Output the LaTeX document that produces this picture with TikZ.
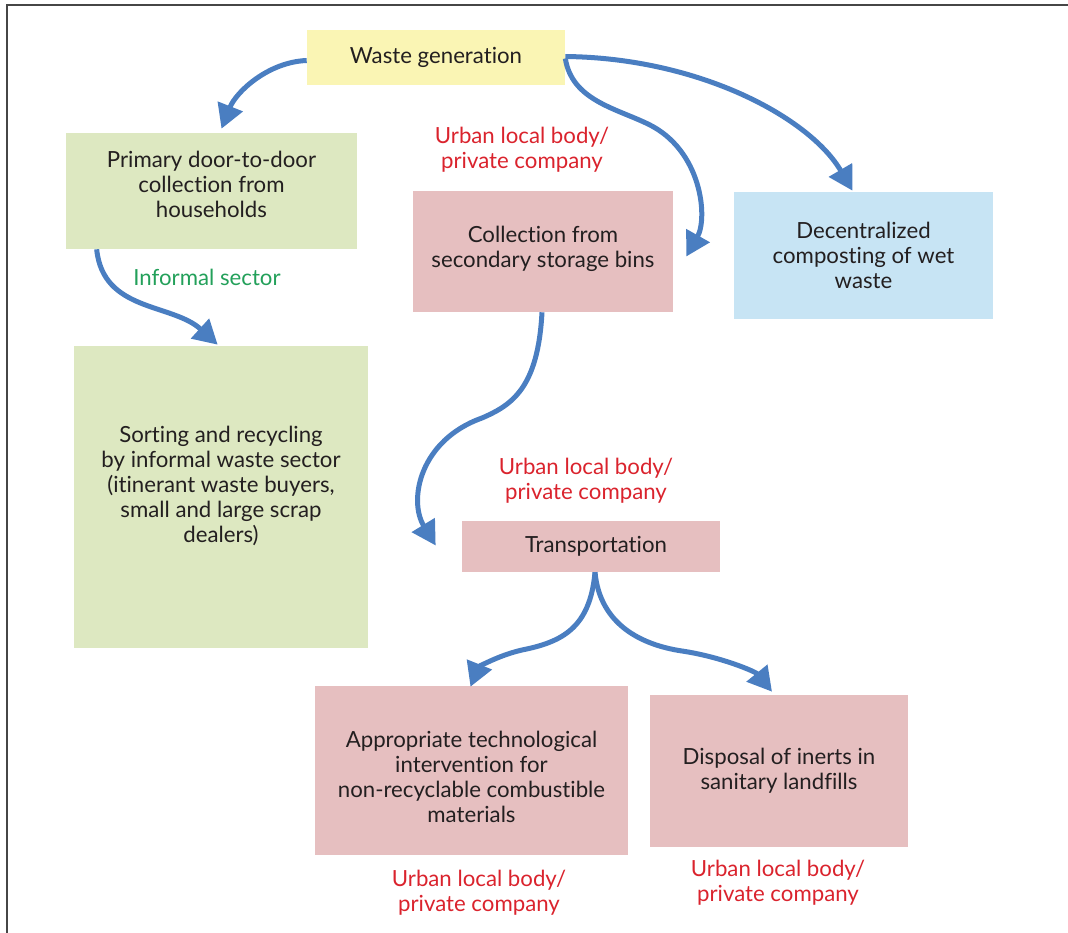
\documentclass[tikz,border=0pt]{standalone}
\usepackage{fontspec}
\setmainfont{Lato}[Ligatures=NoCommon]
\usetikzlibrary{arrows.meta,calc}

\definecolor{genyellow}{RGB}{250,245,180}
\definecolor{infgreen}{RGB}{221,232,193}
\definecolor{ulbpink}{RGB}{230,191,192}
\definecolor{compblue}{RGB}{199,228,244}
\definecolor{flowblue}{RGB}{74,126,193}
\definecolor{ulbred}{RGB}{218,35,45}
\definecolor{secgreen}{RGB}{35,160,90}
\definecolor{inkgray}{RGB}{35,31,32}
\definecolor{framegray}{RGB}{70,70,70}

\begin{document}
\begin{tikzpicture}[x=0.025cm,y=-0.025cm,
    every node/.style={font=\fontsize{15.8}{17.8}\selectfont},
    box/.style={inner sep=2pt, align=center, text=inkgray},
    who/.style={align=center, text=ulbred},
    flow/.style={draw=flowblue, line width=0.125cm, -{Triangle[length=0.6cm,width=0.65cm]}}]
    \useasboundingbox (0,0) rectangle (1068,933);
    \draw[line width=0.07cm, framegray] (7,933) -- (7,5) -- (1068,5);

    % boxes
    \node[box, fill=genyellow, minimum width=6.45cm, minimum height=1.375cm] (gen) at (436,57.5) {Waste generation};
    \node[box, fill=infgreen, minimum width=7.275cm, minimum height=2.9cm] (door) at (211.5,191) {Primary door-to-door\\collection from\\households\\[-0.3cm]};
    \node[box, fill=ulbpink, minimum width=6.5cm, minimum height=3.025cm] (bins) at (543,251.5) {Collection from\\secondary storage bins\\[-0.4cm]};
    \node[box, fill=compblue, minimum width=6.475cm, minimum height=3.175cm] (comp) at (863.5,255.5) {Decentralized\\composting of wet\\waste};
    \node[box, fill=infgreen, minimum width=7.35cm, minimum height=7.55cm] (sort) at (221,497) {Sorting and recycling\\by informal waste sector\\(itinerant waste buyers,\\small and large scrap\\dealers)\\[0cm]};
    \node[box, fill=ulbpink, minimum width=6.45cm, minimum height=1.275cm] (trans) at (591,546.5) {\hspace{0.25cm}Transportation};
    \node[box, fill=ulbpink, minimum width=7.825cm, minimum height=4.225cm] (tech) at (471.5,770.5) {\rule{0pt}{0.73cm}Appropriate technological\\intervention for\\non-recyclable combustible\\materials};
    \node[box, fill=ulbpink, minimum width=6.45cm, minimum height=3.8cm] (land) at (779,771) {Disposal of inerts in\\sanitary landfills};

    % who does it
    \node[who] (whobins) at (522,150) {Urban local body/\\private company};
    \node[text=secgreen] (whodoor) at (207,277) {Informal sector};
    \node[who] (whotrans) at (586,481) {Urban local body/\\private company};
    \node[who] (whotech) at (479,893) {Urban local body/\\private company};
    \node[who] (wholand) at (778,883) {Urban local body/\\private company};

    % arrows
    \draw[flow] ($(gen.west)+(0,3)$) .. controls (268,62) and (236,92) .. ($(door.north)+(10,-4)$);
    \draw[flow] ($(door.south west)+(31,0)$) .. controls (103,312) and (172,303) .. ($(sort.north west)+(144,-1)$);
    \draw[flow] ($(gen.east)+(0,1)$) .. controls (572,100) and (615,108) .. (648,124) .. controls (702,150) and (708,218) .. ($(bins.east)+(13,5)$);
    \draw[flow] ($(gen.east)+(0,-1)$) .. controls (700,58) and (810,118) .. ($(comp.north)+(-11,-1)$);
    \draw[flow] ($(bins.south)+(-1,0)$) .. controls (538,388) and (512,405) .. (482,418) .. controls (420,440) and (408,500) .. ($(trans.west)+(-26,-1)$);
    \draw[flow] ($(trans.south)+(4,0)$) .. controls (590,628) and (562,642) .. (522,650) .. controls (496,656) and (478,668) .. ($(tech.north)+(-1,1)$);
    \draw[flow] ($(trans.south)+(4,0)$) .. controls (600,625) and (642,645) .. (682,651) .. controls (722,657) and (756,672) .. ($(land.north)+(-7,-3)$);
\end{tikzpicture}
\end{document}
